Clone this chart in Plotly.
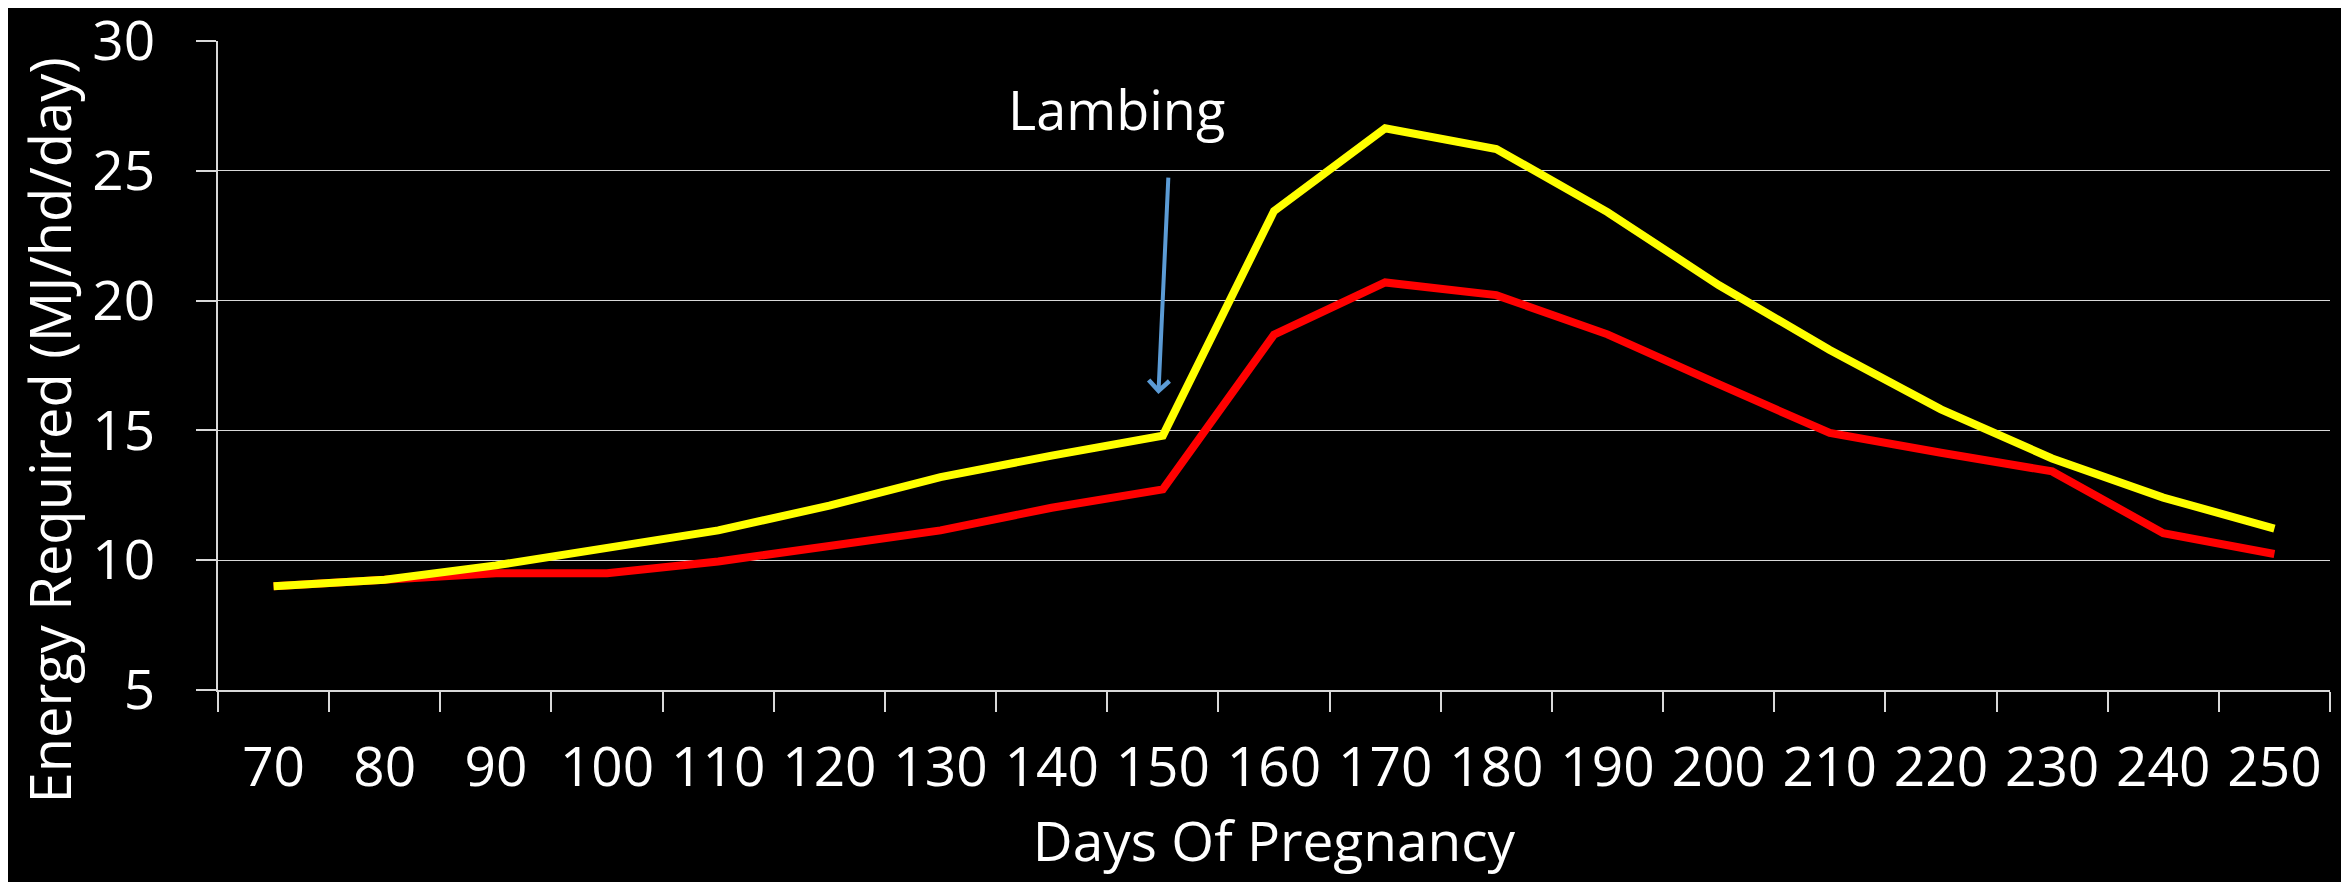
import plotly.graph_objects as go

days = ["70", "80", "90", "100", "110", "120", "130", "140", "150", "160",
        "170", "180", "190", "200", "210", "220", "230", "240", "250"]
yellow_series = [9.0, 9.25, 9.8, 10.45, 11.15, 12.1, 13.2, 14.03, 14.8, 23.45,
                 26.64, 25.84, 23.41, 20.6, 18.1, 15.81, 13.92, 12.41, 11.22]
red_series = [9.0, 9.25, 9.5, 9.5, 9.95, 10.55, 11.15, 12.02, 12.73, 18.69,
              20.7, 20.21, 18.7, 16.78, 14.9, 14.14, 13.42, 11.04, 10.24]
y_ticks = [5, 10, 15, 20, 25, 30]

FONT = "Open Sans"

fig = go.Figure()
fig.add_trace(go.Scatter(x=days, y=red_series, mode="lines",
                         line=dict(color="#FF0000", width=8), name="Red"))
fig.add_trace(go.Scatter(x=days, y=yellow_series, mode="lines",
                         line=dict(color="#FFFF00", width=8), name="Yellow"))

fig.update_layout(
    width=2349, height=882,
    paper_bgcolor="black", plot_bgcolor="black",
    margin=dict(l=210, r=27, t=33, b=200, autoexpand=False),
    showlegend=False,
    font=dict(family=FONT, color="white", size=55),
    xaxis=dict(
        type="category", tickson="boundaries", ticks="outside", ticklen=20,
        range=[-0.5, len(days) - 0.5], automargin=False,
        tickwidth=1.5, tickcolor="#D9D9D9", showline=True, linecolor="#D9D9D9",
        linewidth=1.5, showgrid=False, zeroline=False,
        tickfont=dict(size=55, family=FONT, color="white"),
        ticklabelstandoff=28, ticklabeloverflow="allow",
        title=dict(text="Days Of Pregnancy", font=dict(size=55, family=FONT, color="white"),
                   standoff=17),
    ),
    yaxis=dict(
        range=[5, 30], tickvals=y_ticks, ticks="outside", ticklen=20,
        automargin=False,
        tickwidth=1.5, tickcolor="#D9D9D9", showline=True, linecolor="#D9D9D9",
        linewidth=1.5, showgrid=True, gridcolor="#D9D9D9", gridwidth=1.2,
        zeroline=False, tickfont=dict(size=55, family=FONT, color="white"),
        ticklabelstandoff=30, ticklabeloverflow="allow",
    ),
    annotations=[
        dict(x=-0.080, y=0.40, xref="paper", yref="paper",
             text="Energy Required (MJ/hd/day)", textangle=-90, showarrow=False,
             font=dict(size=56, family=FONT, color="white"),
             xanchor="center", yanchor="middle"),
        dict(x=7.58, y=27.37, xref="x", yref="y", text="Lambing", showarrow=False,
             font=dict(size=54, family=FONT, color="white"),
             xanchor="center", yanchor="middle"),
        dict(x=7.96, y=16.4, xref="x", yref="y", text="", showarrow=True,
             ax=10, ay=-218, arrowhead=4, arrowsize=1, arrowwidth=4,
             arrowcolor="#5B9BD5"),
    ],
)

fig.write_html("out.html")
